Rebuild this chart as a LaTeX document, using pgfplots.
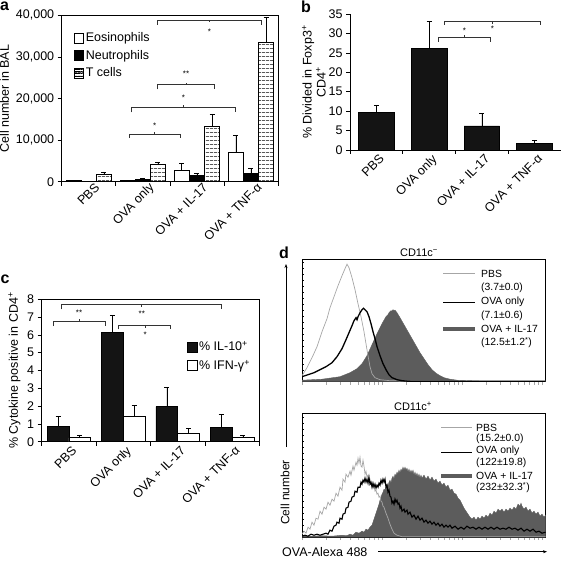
\documentclass[border=0pt]{standalone}
\usepackage{fontspec}
\setmainfont{Liberation Sans}
\usepackage{pgfplots}
\pgfplotsset{compat=1.18}
\usetikzlibrary{patterns.meta, arrows.meta}

\definecolor{hgray}{HTML}{5C5C5C}
\definecolor{pbsgray}{HTML}{A6A6A6}
\definecolor{brk}{HTML}{333333}

\newcommand{\fmain}{\fontsize{12.5}{14}\selectfont}
\newcommand{\fleg}{\fontsize{10.4}{11}\selectfont}

\pgfplotsset{
  barpanel/.style={
    scale only axis, anchor=south west, clip=false,
    axis line style={black, line width=0.6pt},
    tick style={black, line width=0.6pt},
    tick align=outside, major tick length=4pt, minor tick length=4pt,
    tick label style={font=\fmain},
    label style={font=\fmain},
    scaled y ticks=false,
    xtick={0,1,2,3},
    xticklabels={PBS, OVA only, OVA + IL-17, OVA + TNF-α},
    minor xtick={-0.5,0.5,1.5,2.5,3.5},
    major x tick style={draw=none},
    xticklabel style={rotate=45, anchor=north east, inner sep=1pt, xshift=3pt},
    xmin=-0.5, xmax=3.5, ymin=0,
    xtick pos=bottom, ytick pos=left,
  },
  errb/.style={error bars/y dir=plus, error bars/y explicit,
    error bars/error bar style={black, line width=0.6pt},
    error bars/error mark options={rotate=90, black, line width=0.6pt, mark size=2.5pt}},
  boxlegA/.style={legend image code/.code={\draw[##1] (0pt,-4.8pt) rectangle (9.5pt,4.8pt);}},
  boxlegT/.style={legend image code/.code={\draw[black, line width=0.6pt, fill=white, postaction={pattern={Lines[angle=0, distance=2.2pt, line width=0.6pt]}}] (0pt,-4.8pt) rectangle (9.5pt,4.8pt);}},
  boxlegC/.style={legend image code/.code={\draw[##1] (0pt,-5pt) rectangle (10pt,5pt);}},
  brack/.style={brk, line width=0.6pt, sharp plot, no marks, forget plot},
  histo/.style={
    scale only axis, anchor=south west,
    width=243.5pt, xmin=0, xmax=243.5, ymin=0,
    axis line style={black, line width=0.7pt},
    tick align=outside, major tick length=3pt,
    xtick={0,24.08,38.17,48.16,55.92,62.25,67.61,72.24,76.34,80,104.08,118.17,128.16,135.92,142.25,147.61,152.24,156.34,160,184.08,198.17,208.16,215.92,222.25,227.61,232.24,236.34,240},
    xticklabels={}, xtick style={pbsgray, line width=0.5pt},
    xtick pos=bottom, ytick pos=left,
    ytick=\empty,
    extra y ticks={6,12,18,24,30,36,42,48,54,60,66,72,78,84,90,96,102,108,114,120},
    extra y tick labels={},
    extra y tick style={tick align=inside, major tick length=2pt, tick style={black, line width=0.4pt}},
  },
}

\begin{document}
\begin{tikzpicture}
\useasboundingbox (0pt,0pt) rectangle (561pt,560pt);

% ---------------- panel a ----------------
\begin{axis}[barpanel, at={(61.7pt,378.3pt)}, width=216.3pt, height=166.3pt,
  ymax=40000, ytick={0,10000,20000,30000,40000},
  yticklabels={0,{10,000},{20,000},{30,000},{40,000}},
  ylabel={Cell number in BAL},
  xticklabel style={xshift=4.5pt},
  legend style={at={(rel axis cs:0.05,0.915)}, anchor=north west, draw=none, fill=none,
    font=\fmain, row sep=3pt, inner sep=1pt},
  legend cell align=left]
\addplot[ybar, bar width=0.28, bar shift=0, fill=white, draw=black, line width=0.6pt, errb, boxlegA]
  coordinates {(-0.28,250) +- (0,150) (0.72,250) +- (0,100) (1.72,2760) +- (0,1630) (2.72,7150) +- (0,4050)};
\addlegendentry{Eosinophils}
\addplot[ybar, bar width=0.28, bar shift=0, fill=black, draw=black, line width=0.6pt, errb, boxlegA]
  coordinates {(0,80) +- (0,40) (1,580) +- (0,150) (2,1480) +- (0,570) (3,2050) +- (0,1200)};
\addlegendentry{Neutrophils}
\addplot[ybar, bar width=0.28, bar shift=0, fill=white, draw=black, line width=0.6pt,
  postaction={pattern={Lines[angle=0, distance=4pt, line width=0.8pt]}}, errb, boxlegT]
  coordinates {(0.28,1700) +- (0,660) (1.28,4200) +- (0,530) (2.28,13300) +- (0,3000) (3.28,33500) +- (0,6100)};
\addlegendentry{T cells}
% brackets
\addplot[brack] coordinates {(0.75,10580) (0.75,11390) (1.69,11390) (1.69,10580)};
\addplot[brack] coordinates {(1.22,11390) (1.22,11850)};
\addplot[brack] coordinates {(0.78,16680) (0.78,17900) (2.715,17900) (2.715,16680)};
\addplot[brack] coordinates {(1.75,17900) (1.75,18400)};
\addplot[brack] coordinates {(1.27,22200) (1.27,23340) (2.32,23340) (2.32,22200)};
\addplot[brack] coordinates {(1.80,23340) (1.80,23850)};
\addplot[brack] coordinates {(1.27,37800) (1.27,38880) (3.185,38880) (3.185,37800)};
\addplot[brack] coordinates {(2.23,38880) (2.23,38380)};
\node[font=\fontsize{8}{8}\selectfont, inner sep=0pt] at (axis cs:1.22,13500) {*};
\node[font=\fontsize{8}{8}\selectfont, inner sep=0pt] at (axis cs:1.75,20300) {*};
\node[font=\fontsize{8}{8}\selectfont, inner sep=0pt] at (axis cs:1.80,26000) {**};
\node[font=\fontsize{8}{8}\selectfont, inner sep=0pt] at (axis cs:2.23,36100) {*};
\end{axis}

% ---------------- panel b ----------------
\begin{axis}[barpanel, at={(350pt,410pt)}, width=211pt, height=136pt,
  axis x line*=bottom, axis y line*=left,
  ymax=35, ytick={0,5,10,15,20,25,30,35},
  yticklabels={0,5,10,15,20,25,30,35},
  ylabel={\% Divided in Foxp3\textsuperscript{+}\\CD4\textsuperscript{+}},
  ylabel style={align=center, yshift=-4pt}]
\addplot[ybar, bar width=0.677, bar shift=0, fill=black!92, draw=black, line width=0.6pt, errb]
  coordinates {(0,9.7) +- (0,1.7) (1,26.2) +- (0,6.8) (2,6.2) +- (0,3.3) (3,1.8) +- (0,0.6)};
\addplot[brack] coordinates {(1.174,27.9) (1.174,28.9) (2.154,28.9) (2.154,27.9)};
\addplot[brack] coordinates {(1.667,28.9) (1.667,29.6)};
\addplot[brack] coordinates {(1.28,32.2) (1.28,33.2) (3.115,33.2) (3.115,32.2)};
\addplot[brack] coordinates {(2.2,33.2) (2.2,32.5)};
\node[font=\fontsize{8}{8}\selectfont, inner sep=0pt] at (axis cs:1.667,30.8) {*};
\node[font=\fontsize{8}{8}\selectfont, inner sep=0pt] at (axis cs:2.2,31.3) {*};
\end{axis}

% ---------------- panel c ----------------
\begin{axis}[barpanel, at={(41.7pt,118.3pt)}, width=217.6pt, height=142.4pt,
  ymax=8, ytick={0,1,2,3,4,5,6,7,8},
  yticklabels={0,1,2,3,4,5,6,7,8},
  ylabel={\% Cytokine positive in CD4\textsuperscript{+}},
  legend style={at={(rel axis cs:0.66,0.727)}, anchor=north west, draw=none, fill=none,
    font=\fmain, row sep=4pt, inner sep=1pt},
  legend cell align=left]
\addplot[ybar, bar width=0.4, bar shift=0, fill=black!92, draw=black, line width=0.6pt, errb, boxlegC]
  coordinates {(-0.2,0.88) +- (0,0.55) (0.8,6.14) +- (0,0.96) (1.8,1.97) +- (0,1.07) (2.8,0.8) +- (0,0.73)};
\addlegendentry{\% IL-10\textsuperscript{+}}
\addplot[ybar, bar width=0.4, bar shift=0, fill=white, draw=black, line width=0.6pt, errb, boxlegC]
  coordinates {(0.2,0.22) +- (0,0.16) (1.2,1.4) +- (0,0.66) (2.2,0.45) +- (0,0.29) (3.2,0.22) +- (0,0.13)};
\addlegendentry{\% IFN-γ\textsuperscript{+}}
\addplot[brack] coordinates {(-0.287,6.5) (-0.287,6.74) (0.664,6.74) (0.664,6.5)};
\addplot[brack] coordinates {(0.186,6.74) (0.186,6.9)};
\addplot[brack] coordinates {(-0.145,7.44) (-0.145,7.72) (2.81,7.72) (2.81,7.44)};
\addplot[brack] coordinates {(1.33,7.72) (1.33,7.55)};
\addplot[brack] coordinates {(0.909,6.31) (0.909,6.56) (1.858,6.56) (1.858,6.31)};
\addplot[brack] coordinates {(1.4,6.56) (1.4,6.4)};
\node[font=\fontsize{8}{8}\selectfont, inner sep=0pt] at (axis cs:0.186,7.22) {**};
\node[font=\fontsize{8}{8}\selectfont, inner sep=0pt] at (axis cs:1.34,7.2) {**};
\node[font=\fontsize{8}{8}\selectfont, inner sep=0pt] at (axis cs:1.4,6.02) {*};
\end{axis}

% ---------------- panel d, upper ----------------
\begin{axis}[histo, at={(302pt,178.3pt)}, height=122.4pt, ymax=122.4]
\addplot[fill=hgray, draw=hgray, line width=0.4pt] coordinates {
 (0,1.5) (20,2.5) (38,5) (48,9) (55,13) (60,18) (65,26) (70,37) (75,48) (80,58)
 (84,65) (86,67) (87,69) (88,70) (89,71) (90,70.5) (91,72) (92,71) (93,71.5) (95,69) (98,64)
 (102,57) (106,50) (110,43) (114,36) (118,29) (122,23) (126,17) (130,12)
 (134,8.5) (138,6) (142,4) (148,2.5) (155,1.5) (170,1) (200,0.8) (243.5,0.8)} \closedcycle;
\addplot[pbsgray, line width=0.7pt] coordinates {
 (0,6) (5,14) (10,24) (15,35) (20,50) (25,63) (28,74) (32,85) (36,96) (40,106)
 (43,113) (45,117.5) (47,114) (50,104) (53,92) (56,78) (59,65) (62,50) (64,38)
 (66,26) (68,15) (70,8) (73,4) (78,2) (88,1) (110,0.5) (243.5,0.5)};
\addplot[black, line width=1.3pt] coordinates {
 (0,5) (6,7) (12,9) (18,12) (24,15) (30,19) (35,25) (40,33) (44,42) (47,49)
 (50,56) (52,61) (54,64) (55,62) (56,65) (58,69) (60,72) (61.5,73.5) (63,72)
 (65,70) (67,65) (69,58) (71,50) (73,43) (75,35) (78,26) (81,18) (84,12) (87,7)
 (90,4) (95,2) (100,1) (108,0.3) (243.5,0.3)};
\end{axis}

% ---------------- panel d, lower ----------------
\begin{axis}[histo, at={(302pt,22.8pt)}, height=123.5pt, ymax=123.5]
\addplot[fill=hgray, draw=hgray, line width=0.4pt] coordinates {
 (0,1) (10,1) (20,1.5) (30,1) (40,2) (45,1.5) (48,3) (51,2) (54,5) (57,4) (60,6) (62,5)
 (64,8) (66,7) (68,10) (70,12) (71,15) (72,18) (73,21) (74,24) (75,27) (76,30) (77,33)
 (78,37) (79,40) (80,43) (81,45) (82,48) (83,47) (84,50) (85,53) (86,51) (87,55) (88,57)
 (89,54) (90,59) (91,61) (92,58) (93,63) (94,61) (95,65) (96,63) (97,67) (98,64) (99,68)
 (100,66) (101,70) (102,67) (103,70) (104,67) (105,69) (106,65) (107,68) (108,64) (109,67)
 (110,64) (111,67) (112,62) (113,65) (114,61) (115,64) (116,60) (117,63) (118,59) (119,62)
 (120,59) (122,62) (124,58) (126,61) (128,57) (130,60) (132,56) (134,58) (136,54) (138,56)
 (140,52) (142,54) (144,50) (146,52) (148,47) (150,48) (152,44) (154,43) (156,39) (158,37)
 (160,33) (162,29) (164,26) (166,23) (168,20) (170,18) (172,20) (174,17) (176,20) (178,18)
 (180,21) (182,19) (184,22) (186,20) (188,24) (190,22) (192,26) (194,24) (196,28) (198,26)
 (200,28) (202,25) (204,28) (206,26) (208,29) (210,27) (212,30) (214,28) (216,33) (218,31)
 (219,34) (220,31) (222,28) (224,30) (226,26) (228,28) (230,24) (232,26) (234,23) (236,25)
 (238,21) (240,23) (242,20) (243.5,22)} \closedcycle;
\addplot[pbsgray, line width=0.7pt] coordinates {
 (0,3) (2,6) (4,4) (6,10) (8,8) (10,15) (12,12) (14,19) (16,18) (18,26) (20,23) (22,30)
 (24,28) (26,35) (28,32) (30,38) (32,36) (34,44) (36,41) (38,50) (40,47) (41,58) (43,55)
 (44,63) (46,60) (48,66) (49,62) (51,71) (52,67) (54,75) (55,72) (56,79) (57,74) (58,80)
 (59,71) (60,70) (61,77) (62,71) (63,63) (64,66) (65,60) (66,62) (67,57) (68,58) (69,53)
 (70,55) (71,50) (72,51) (73,46) (74,47) (75,43) (76,44) (77,40) (78,41) (79,36) (80,35)
 (81,31) (82,30) (84,24) (86,19) (88,13) (90,8) (92,4) (95,2) (100,0.5) (243.5,0.5)};
\addplot[black, line width=1.1pt] coordinates {
 (0,1) (3,2) (6,1) (9,3) (12,2) (15,3) (18,2) (21,3) (24,4) (26,3) (28,7) (30,6) (32,11)
 (34,12) (35,15) (37,14) (38,19) (40,18) (41,23) (43,24) (44,29) (46,30) (47,35) (49,36)
 (50,40) (52,41) (53,46) (55,45) (56,50) (58,50) (59,55) (60,53) (61,57) (62,55) (63,59)
 (64,55) (65,58) (66,54) (67,60) (68,53) (69,55) (70,50) (71,54) (72,50) (73,53) (74,49)
 (75,52) (76,50) (77,54) (78,52) (79,57) (80,54) (81,58) (82,55) (83,58) (84,50) (85,52)
 (86,45) (87,47) (88,41) (89,40) (90,34) (91,36) (92,33) (93,38) (94,35) (95,37) (96,33)
 (97,34) (98,29) (99,31) (100,26) (102,28) (103,25) (105,27) (106,23) (108,25) (110,20)
 (112,22) (114,18) (116,21) (118,17) (120,19) (122,15) (124,17) (126,14) (128,16) (130,13)
 (132,15) (134,12) (136,14) (138,11) (140,13) (142,10) (144,12) (146,10) (148,12) (150,9)
 (153,11) (156,8) (159,10) (162,8) (165,11) (168,9) (171,10) (174,8) (177,10) (180,8)
 (183,10) (186,8) (189,10) (192,8) (195,10) (198,8) (201,9) (204,8) (207,10) (210,8)
 (213,9) (216,7) (219,9) (222,6) (225,8) (228,6) (231,8) (234,5) (237,6) (240,4) (243.5,5)};
\end{axis}

% ---------------- panel d annotations ----------------
\node[font=\fontsize{11}{12}\selectfont] at (419pt,307.5pt) {CD11c\textsuperscript{−}};
\node[font=\fontsize{11}{12}\selectfont] at (413pt,154pt) {CD11c\textsuperscript{+}};
\draw[line width=0.6pt, -{Stealth[length=4pt, width=3pt]}] (286pt,113pt) -- (286pt,296pt);
\node[font=\fontsize{12}{13}\selectfont, rotate=90] at (285pt,67.5pt) {Cell number};
\node[font=\fmain, anchor=west, inner sep=0pt] at (282pt,8.3pt) {OVA-Alexa 488};
\draw[line width=0.6pt, -{Stealth[length=4pt, width=3pt]}] (378pt,8.3pt) -- (547pt,8.3pt);

% upper legend
\begin{scope}[every node/.style={font=\fleg, anchor=west, inner sep=0pt}]
\draw[pbsgray, line width=0.8pt] (443pt,286.7pt) -- (475pt,286.7pt);
\node at (481pt,286pt) {PBS};
\node at (481pt,272.5pt) {(3.7±0.0)};
\draw[black, line width=1.4pt] (443pt,257.3pt) -- (475pt,257.3pt);
\node at (481pt,258pt) {OVA only};
\node at (481pt,244pt) {(7.1±0.6)};
\fill[hgray] (443pt,229pt) rectangle (475pt,233pt);
\node at (481pt,231pt) {OVA + IL-17};
\node at (481pt,217.5pt) {(12.5±1.2\textsuperscript{*})};
% lower legend
\draw[pbsgray, line width=0.8pt] (441pt,132.3pt) -- (472pt,132.3pt);
\node at (476pt,132.3pt) {PBS};
\node at (476pt,120.7pt) {(15.2±0.0)};
\draw[black, line width=1.4pt] (441pt,107.3pt) -- (472pt,107.3pt);
\node at (476pt,109pt) {OVA only};
\node at (476pt,96.7pt) {(122±19.8)};
\fill[hgray] (441pt,81.7pt) rectangle (472pt,85.7pt);
\node at (476pt,84pt) {OVA + IL-17};
\node at (476pt,72.3pt) {(232±32.3\textsuperscript{*})};
\end{scope}

% panel letters
\begin{scope}[every node/.style={font=\bfseries\fontsize{16}{16}\selectfont, inner sep=0pt}]
\node at (4.5pt,554pt) {a};
\node at (306pt,553pt) {b};
\node at (5pt,281pt) {c};
\node at (284pt,307pt) {d};
\end{scope}
\end{tikzpicture}
\end{document}
